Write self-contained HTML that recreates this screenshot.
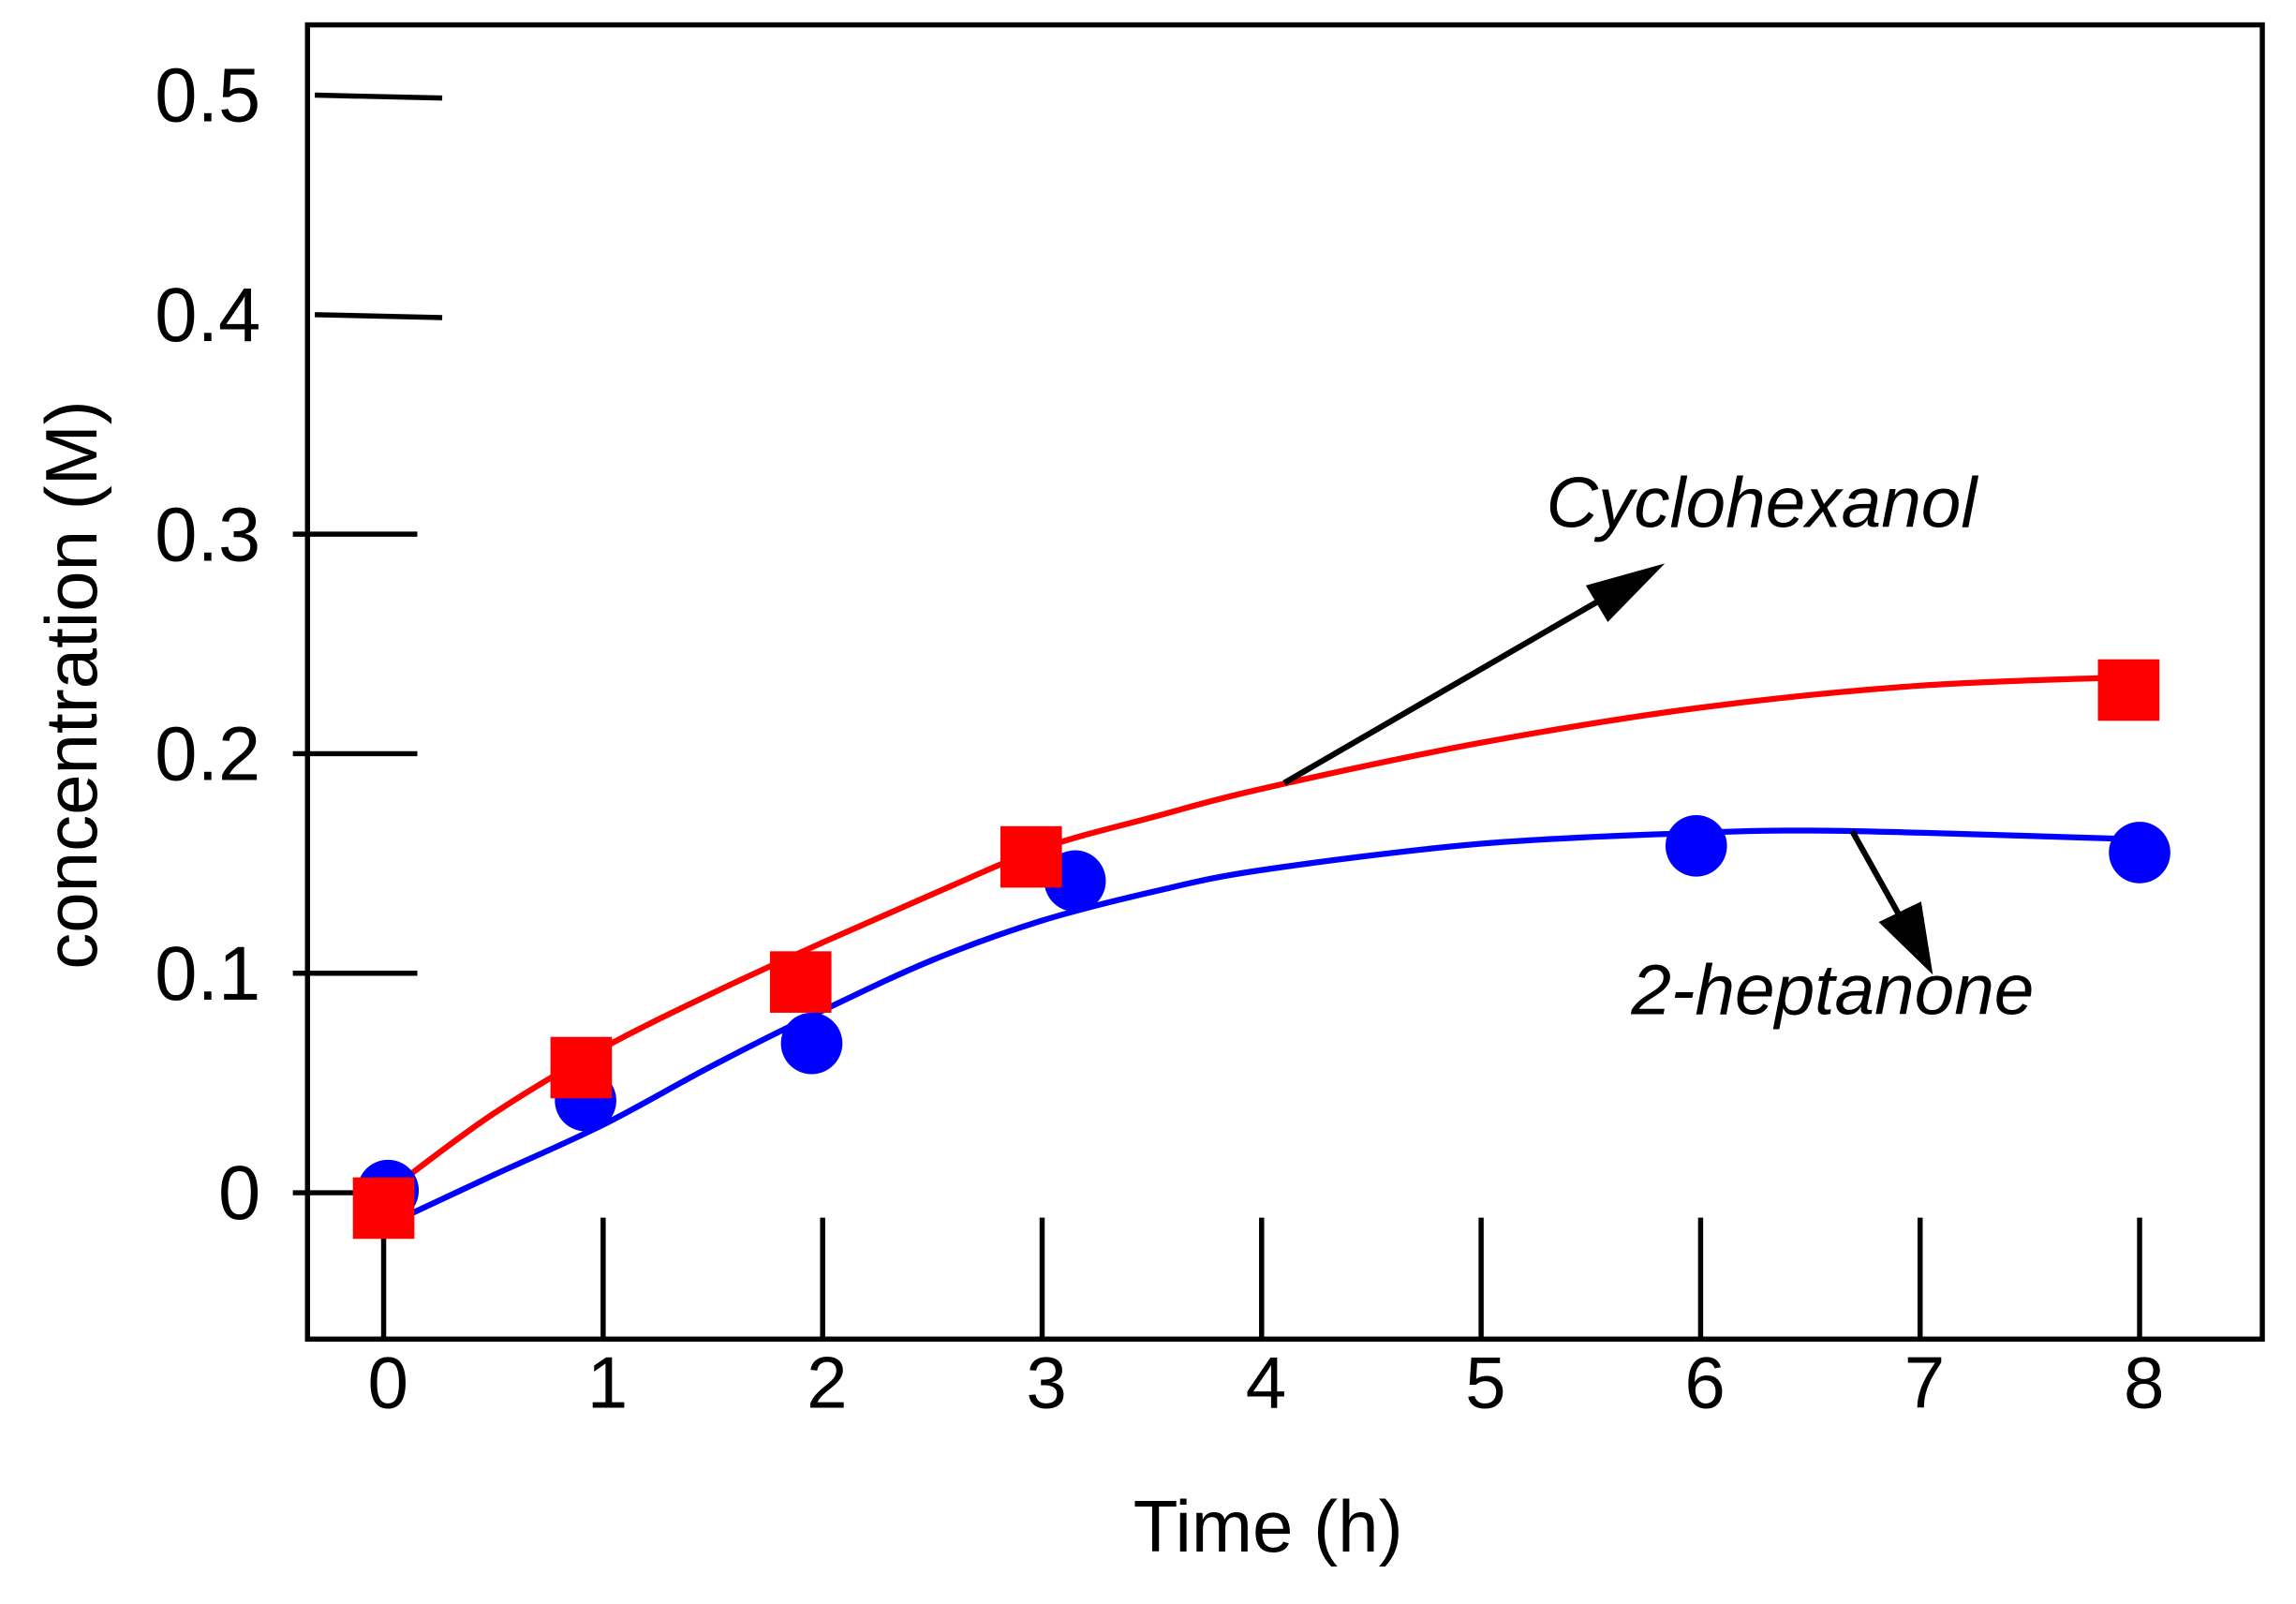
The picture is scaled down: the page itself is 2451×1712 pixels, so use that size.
<!DOCTYPE html>
<html><head><meta charset="utf-8"><style>
html,body{margin:0;padding:0;background:#fff}
svg{display:block}
text{font-family:"Liberation Sans",Arial,sans-serif;fill:#000}
</style></head><body>
<svg id="chart" width="2451" height="1712" viewBox="0 0 1568 1096" preserveAspectRatio="none" xmlns="http://www.w3.org/2000/svg">
<rect x="210" y="17" width="1335" height="898" fill="none" stroke="#000" stroke-width="3.5"/>
<g id="yticks"></g><g id="xticks"></g><g id="curves"></g><g id="marks"></g>
<text x="866" y="1060" font-size="50" text-anchor="middle">Time (h)</text>
<text transform="translate(66,468) rotate(-90)" font-size="50" text-anchor="middle">concentration (M)</text>
<text x="1056" y="360" font-size="49" font-style="italic">Cyclohexanol</text>
<line x1="877" y1="535" x2="1105" y2="403" stroke="#000" stroke-width="4"/>
<polygon points="1137,385 1083,400 1098,425" fill="#000"/>
<text x="1114" y="693" font-size="49" font-style="italic">2-heptanone</text>
<line x1="1265" y1="568" x2="1303" y2="636" stroke="#000" stroke-width="4"/>
<polygon points="1320,666 1283,630 1312,616" fill="#000"/>
</svg>
<script>
const yTicks=[0,0.1,0.2,0.3,0.4,0.5];
const yTickLabels=["0","0.1","0.2","0.3","0.4","0.5"];
const xTicks=[0,1,2,3,4,5,6,7,8];
const xTickLabels=["0","1","2","3","4","5","6","7","8"];
const cycloT=[0,0.9,1.9,2.95,7.95];
const cycloC=[-0.007,0.057,0.096,0.153,0.229];
const heptT=[0.02,0.92,1.95,3.15,5.98,8];
const heptC=[0.001,0.042,0.068,0.142,0.158,0.155];
const cycloFitT=[0.05,0.5,1,1.5,2,2.5,3,3.5,4,5,6,7,8];
const cycloFitC=[0.003,0.036,0.066,0.091,0.114,0.136,0.157,0.171,0.184,0.205,0.221,0.231,0.235];
const heptFitT=[0.05,0.5,1,1.5,2,2.5,3,3.5,4,5,6,6.5,7,8];
const heptFitC=[-0.013,0.008,0.031,0.058,0.083,0.106,0.124,0.137,0.147,0.159,0.164,0.165,0.164,0.161];
const NS="http://www.w3.org/2000/svg";
const xs=t=>262+t*149.9;
const ys=c=>815-c*1500;
function mk(tag,attrs,parent){const e=document.createElementNS(NS,tag);for(const k in attrs)e.setAttribute(k,attrs[k]);document.getElementById(parent).appendChild(e);return e;}
yTicks.forEach((v,i)=>{
 const l=mk('line',{x1:i>=4?215:200,y1:ys(v),x2:i>=4?302:285,y2:ys(v)+(i>=4?2:0),stroke:'#000','stroke-width':3.5},'yticks');
 
 
 const t=mk('text',{x:178,y:ys(v)+18,'font-size':52,'text-anchor':'end'},'yticks');
 t.textContent=yTickLabels[i];
 
 
});
xTicks.forEach((v,i)=>{
 const l=mk('line',{x1:xs(v),y1:915,x2:xs(v),y2:832,stroke:'#000','stroke-width':3.5},'xticks');
 
 
 const t=mk('text',{x:xs(v)+3,y:962,'font-size':50,'text-anchor':'middle'},'xticks');
 t.textContent=xTickLabels[i];
 
 
});
function curve(T,C,color,name){
 const P=T.map((t,i)=>[xs(t),ys(C[i])]);
 let d='M'+P[0][0].toFixed(1)+','+P[0][1].toFixed(1);
 for(let i=0;i<P.length-1;i++){
  const p0=P[i-1]||P[i],p1=P[i],p2=P[i+1],p3=P[i+2]||P[i+1];
  const c1=[p1[0]+(p2[0]-p0[0])/6,p1[1]+(p2[1]-p0[1])/6];
  const c2=[p2[0]-(p3[0]-p1[0])/6,p2[1]-(p3[1]-p1[1])/6];
  d+=' C'+c1.map(v=>v.toFixed(1)).join(',')+' '+c2.map(v=>v.toFixed(1)).join(',')+' '+p2[0].toFixed(1)+','+p2[1].toFixed(1);
 }
 const p=mk('path',{d:d,fill:'none',stroke:color,'stroke-width':4},'curves');
 
 
}
curve(heptFitT,heptFitC,'#0000ff','heptanone-fit-line');
curve(cycloFitT,cycloFitC,'#ff0000','cyclohexanol-fit-line');
heptT.forEach((t,i)=>{
 const c=mk('circle',{cx:xs(t),cy:ys(heptC[i]),r:21,fill:'#0000ff'},'marks');
 
 
});
cycloT.forEach((t,i)=>{
 const r=mk('rect',{x:xs(t)-21,y:ys(cycloC[i])-21,width:42,height:42,fill:'#ff0000'},'marks');
 
 
});
</script>
</body></html>
